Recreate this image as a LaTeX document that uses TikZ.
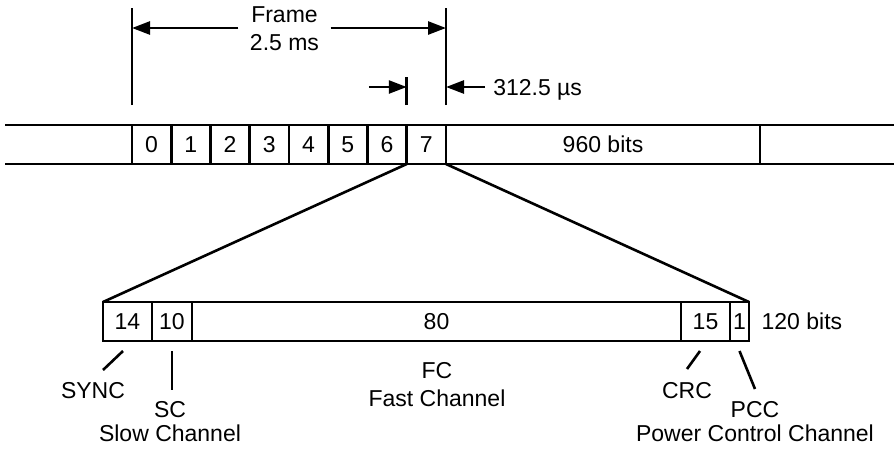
\documentclass[tikz,border=0pt]{standalone}
\usepackage{fontspec}
\setmainfont{Liberation Sans}
\usetikzlibrary{arrows.meta, positioning}

\begin{document}
\begin{tikzpicture}[
  x=1pt, y=-1pt,
  line width=2.6pt,
  font=\fontsize{23}{24}\selectfont,
  cell/.style={rectangle, draw, minimum height=39pt, inner sep=0pt, outer sep=0pt, anchor=north west},
  lbl/.style={inner sep=0pt, anchor=base},
  dim/.style={-{Triangle[length=18pt, width=13pt]}, line width=2.6pt}
]
\useasboundingbox (0,0) rectangle (894,451);

% superframe bar
\draw (5,125) -- (894,125);
\draw (5,164) -- (894,164);
\foreach \i in {0,...,7}
  \node[cell, minimum width=39.25pt] (slot\i) at ({132+39.25*\i},125) {\i};
\node[cell, minimum width=314pt, right=0pt of slot7] (data) {960 bits};

% dimension lines
\coordinate (e0) at ([shift={(0,-20)}]slot0.north west);
\coordinate (e7) at ([shift={(0,-20)}]slot7.north west);
\coordinate (e8) at ([shift={(0,-20)}]slot7.north east);
\draw (e0) -- ++(0,-97);
\draw (e8) -- ++(0,-97);
\draw (e7) -- ++(0,-28);

\coordinate (fa) at (0,28);
\coordinate (ua) at (0,87);
\node[lbl, inner xsep=11.5pt] (frame) at (284.5,22) {Frame};
\node[lbl] (framelen) at (284.5,50) {2.5 ms};
\draw[dim] (frame.west |- fa) -- (e0 |- fa);
\draw[dim] (frame.east |- fa) -- (e8 |- fa);

\coordinate (u7) at (e7 |- ua);
\draw[dim] ([xshift=-38pt]u7) -- (u7);
\node[lbl, anchor=base west, inner xsep=7pt] (slotlen) at (485,95) {312.5 µs};
\draw[dim] (slotlen.west |- ua) -- (e8 |- ua);

% slot fields
\node[cell, minimum width=49pt] (sync) at (103,302) {14};
\node[cell, minimum width=40pt, right=0pt of sync] (sc) {10};
\node[cell, minimum width=489pt, right=0pt of sc] (fc) {80};
\node[cell, minimum width=49pt, right=0pt of fc] (crc) {15};
\node[cell, minimum width=19pt, right=0pt of crc] (pcc) {1};
\node[right=8pt of pcc] (total) {120 bits};

\draw (slot7.south west) -- (sync.north west);
\draw (slot7.south east) -- (pcc.north east);

% field names
\node[lbl] (syncname) at (93,398) {SYNC};
\node[lbl] (scname) at (170,417) {SC};
\node[lbl] (scdesc) at (170,441.5) {Slow Channel};
\node[lbl] (fcname) at (437,378) {FC};
\node[lbl] (fcdesc) at (437,406.5) {Fast Channel};
\node[lbl] (crcname) at (687,398.5) {CRC};
\node[lbl] (pccname) at (755,417) {PCC};
\node[lbl] (pccdesc) at (755,441.5) {Power Control Channel};

\draw ([shift={(-4.5,10)}]sync.south) -- ++(-20,19);
\draw ([shift={(0,10)}]sc.south) -- ++(0,39);
\draw ([shift={(-5.5,10)}]crc.south) -- ++(-13,18);
\draw ([shift={(0,10)}]pcc.south) -- ++(15.5,38);
\end{tikzpicture}
\end{document}
